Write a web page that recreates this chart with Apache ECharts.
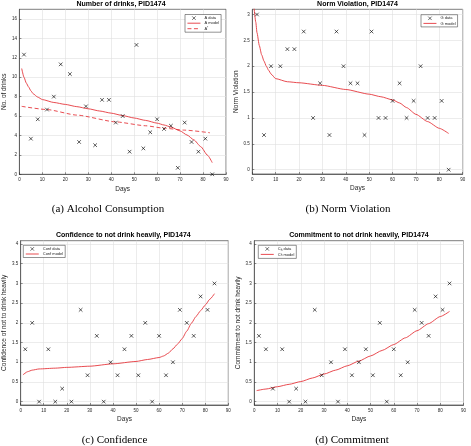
<!DOCTYPE html>
<html><head><meta charset="utf-8">
<script src="https://cdn.jsdelivr.net/npm/echarts@6/dist/echarts.min.js"></script>
<style>html,body{margin:0;padding:0;background:#fff}#c{width:471px;height:446px}</style>
</head><body><div id="c"></div>
<script>
// ---- data ----
const days = [2,5,8,12,15,18,22,26,29,33,36,39,42,45,48,51,54,57,60,63,66,69,72,75,78,81,84];
const drinksData = [12.33,3.67,5.67,6.67,8,11.33,10.33,3.33,7,3,7.67,7.67,5.33,6,2.33,13.33,2.67,4.33,5.67,4.67,5,0.67,5.33,3.33,2.33,3.67,0];
const normData = [3,0.67,2,2,2.33,2.33,2.67,1,1.67,0.67,2.67,2,1.67,1.67,0.67,2.67,1,1,1.33,1.67,1,1.33,2,1,1,1.33,0];
const confData = [1.33,2,0,1.33,0,0.33,0,2.33,0.67,1.67,0,1,0.67,1.33,1.67,0.67,2,0,1.67,0.67,1,2.33,2,1.67,2.67,2.33,3];
const commitData = [1.67,1.33,0.33,1.33,0,0.33,0,2.33,0.67,1,0,1.33,0.67,1,1.33,0.67,2,0,1.33,0.67,1,2.33,2,1.67,2.67,2.33,3];

const aModelDays = [1,2,3,4,5,6,8,10,15,20,25,30,35,40,45,50,55,60,63,66,70,73,76,79,82,84];
const aModelVals = [10.9,10.0,9.4,9.0,8.6,8.3,7.95,7.7,7.4,7.2,6.97,6.75,6.52,6.3,6.05,5.8,5.55,5.27,5.08,4.87,4.47,4.05,3.55,2.85,1.95,1.2];
const aStarDays = [1,12,25,42,55,63,72,83];
const aStarVals = [7.0,6.67,6.1,5.4,5.0,4.75,4.55,4.28];
const gModelDays = [0.7,1.5,2,3,4,5,6,7,8,10,15,20,30,40,50,55,60,63,66,70,75,80,84];
const gModelVals = [3.15,2.85,2.65,2.4,2.22,2.1,2.0,1.92,1.85,1.76,1.7,1.68,1.63,1.55,1.46,1.41,1.35,1.29,1.2,1.07,0.93,0.8,0.7];
const confModelDays = [1,3,5,8,15,20,30,40,50,55,60,62,64,66,68,70,72,74,76,78,80,82,84];
const confModelVals = [0.68,0.76,0.8,0.83,0.85,0.87,0.9,0.96,1.02,1.07,1.12,1.16,1.23,1.34,1.46,1.6,1.79,1.99,2.16,2.31,2.45,2.6,2.74];
const commitModelDays = [1,5,10,15,20,25,30,35,40,45,50,55,60,65,70,75,80,84];
const commitModelVals = [0.28,0.32,0.38,0.44,0.51,0.6,0.7,0.8,0.91,1.03,1.16,1.3,1.45,1.62,1.8,1.98,2.16,2.29];

const xTicks = [0,10,20,30,40,50,60,70,80,90];
const yTicksA = [0,2,4,6,8,10,12,14,16];
const yTicksB = [0,0.5,1,1.5,2,2.5,3];
const yTicksCD = [0,0.5,1,1.5,2,2.5,3,3.5,4];

// ---- helpers ----
const AX = '#262626', GRID = '#dfdfdf', RED = '#e5383d';
const FONT = 'Liberation Sans, Arial, sans-serif';
const zip = (a, b) => a.map((v, i) => [v, b[i]]);
const X_SYM = 'path://M0,0L10,10M10,0L0,10';

function xAxis(gi) {
  return {gridIndex: gi, type: 'value', min: 0, max: 90,
    name: 'Days', nameLocation: 'middle', nameGap: 11,
    nameTextStyle: {fontSize: 6.5, color: AX, fontFamily: FONT},
    axisLine: {show: true, onZero: false, lineStyle: {color: AX, width: 0.6}},
    axisTick: {show: true, inside: true, length: 2, customValues: xTicks, lineStyle: {color: AX, width: 0.5}},
    axisLabel: {fontSize: 4.5, color: AX, margin: 3, fontFamily: FONT, customValues: xTicks},
    splitLine: {show: true, lineStyle: {color: GRID, width: 0.6}}};
}
function yAxis(gi, min, max, ticks, name, gap) {
  return {gridIndex: gi, type: 'value', min: min, max: max,
    name: name, nameLocation: 'middle', nameGap: gap,
    nameTextStyle: {fontSize: 6.5, color: AX, fontFamily: FONT},
    axisLine: {show: true, onZero: false, lineStyle: {color: AX, width: 0.6}},
    axisTick: {show: true, inside: true, length: 2, customValues: ticks, lineStyle: {color: AX, width: 0.5}},
    axisLabel: {fontSize: 4.5, color: AX, margin: 2.5, fontFamily: FONT, customValues: ticks},
    splitLine: {show: true, lineStyle: {color: GRID, width: 0.6}}};
}
function scatter(name, gi, vals) {
  return {name: name, type: 'scatter', xAxisIndex: gi, yAxisIndex: gi,
    data: zip(days, vals), symbol: X_SYM, symbolSize: 3.6,
    itemStyle: {color: 'rgba(0,0,0,0)', borderColor: '#000', borderWidth: 0.8}, z: 3};
}
function line(name, gi, xs, ys, dashed) {
  return {name: name, type: 'line', xAxisIndex: gi, yAxisIndex: gi,
    data: zip(xs, ys), showSymbol: false, symbol: 'none', smooth: 0.2, smoothMonotone: 'x',
    lineStyle: {color: RED, width: 0.9, type: dashed ? [4, 2.5] : 'solid'},
    itemStyle: {color: RED}, z: 2};
}
function legend(dataNames, lineNames, left, top) {
  const data = dataNames.map(n => ({name: n}))
    .concat(lineNames.map(n => ({name: n, itemStyle: {opacity: 0}})));
  return {orient: 'vertical', left: left, top: top, data: data,
    itemWidth: 13, itemHeight: 3.5, itemGap: 1, padding: [1.5, 2, 1.5, 2],
    backgroundColor: '#fff', borderColor: AX, borderWidth: 0.5, borderRadius: 0,
    selectedMode: false,
    lineStyle: {width: 0.9},
    itemStyle: {borderWidth: 0.7},
    formatter: n => n === 'A*' ? 'A{sup|*}' : (n.startsWith('Ch') ? 'C{sub|h}' + n.slice(2) : n),
    textStyle: {fontSize: 4, color: AX, fontFamily: FONT, padding: [0, 0, 0, -1],
      rich: {sup: {fontSize: 3, padding: [0, 0, 2, 0]}, sub: {fontSize: 3, padding: [2, 0, 0, 0]}}}};
}
function txt(x, y, s, size, bold, family) {
  return {type: 'text', x: x, y: y, style: {text: s, fontSize: size, fontWeight: bold ? 'bold' : 'normal',
    fontFamily: family || FONT, fill: '#000', align: 'center', verticalAlign: 'middle'}};
}
const grids = [
  {left: 16.3, top: 9.3, width: 209.7, height: 165},
  {left: 252.3, top: 9.3, width: 210.4, height: 164.7},
  {left: 18.3, top: 240.7, width: 210, height: 164.3},
  {left: 254.3, top: 240.7, width: 209.2, height: 164.3}
].map(g => Object.assign(g, {show: true, borderColor: AX, borderWidth: 0.6, backgroundColor: '#fff', containLabel: false}));

const SERIF = 'Liberation Serif, Times New Roman, serif';
const option = {
  animation: false,
  backgroundColor: '#fff',
  grid: grids,
  xAxis: [xAxis(0), xAxis(1), xAxis(2), xAxis(3)],
  yAxis: [
    yAxis(0, 0, 17, yTicksA, 'No. of drinks', 9),
    yAxis(1, -0.083, 3.1, yTicksB, 'Norm Violation', 10),
    yAxis(2, -0.085, 4.085, yTicksCD, 'Confidence of not to drink heavily', 10),
    yAxis(3, -0.085, 4.085, yTicksCD, 'Commitment to not drink heavily', 10)
  ],
  legend: [
    legend(['A data'], ['A model', 'A*'], 185, 14.5),
    legend(['G data'], ['G model'], 421, 14.7),
    legend(['Conf data'], ['Conf model'], 23.3, 245.3),
    legend(['Ch data'], ['Ch model'], 258.3, 245.3)
  ],
  series: [
    scatter('A data', 0, drinksData),
    line('A model', 0, aModelDays, aModelVals, false),
    line('A*', 0, aStarDays, aStarVals, true),
    scatter('G data', 1, normData),
    line('G model', 1, gModelDays, gModelVals, false),
    scatter('Conf data', 2, confData),
    line('Conf model', 2, confModelDays, confModelVals, false),
    scatter('Ch data', 3, commitData),
    line('Ch model', 3, commitModelDays, commitModelVals, false)
  ],
  graphic: [
    txt(121, 4.5, 'Number of drinks, PID1474', 7, true),
    txt(357.5, 4.5, 'Norm Violation, PID1474', 7, true),
    txt(123.3, 234.7, 'Confidence to not drink heavily, PID1474', 7, true),
    txt(359, 234.7, 'Commitment to not drink heavily, PID1474', 7, true),
    txt(108, 209.5, '(a) Alcohol Consumption', 11, false, SERIF),
    txt(348, 209.5, '(b) Norm Violation', 11, false, SERIF),
    txt(114.5, 440, '(c) Confidence', 11, false, SERIF),
    txt(352, 440, '(d) Commitment', 11, false, SERIF)
  ]
};
const chart = echarts.init(document.getElementById('c'), null, {renderer: 'canvas'});
chart.setOption(option);
</script>
</body></html>
